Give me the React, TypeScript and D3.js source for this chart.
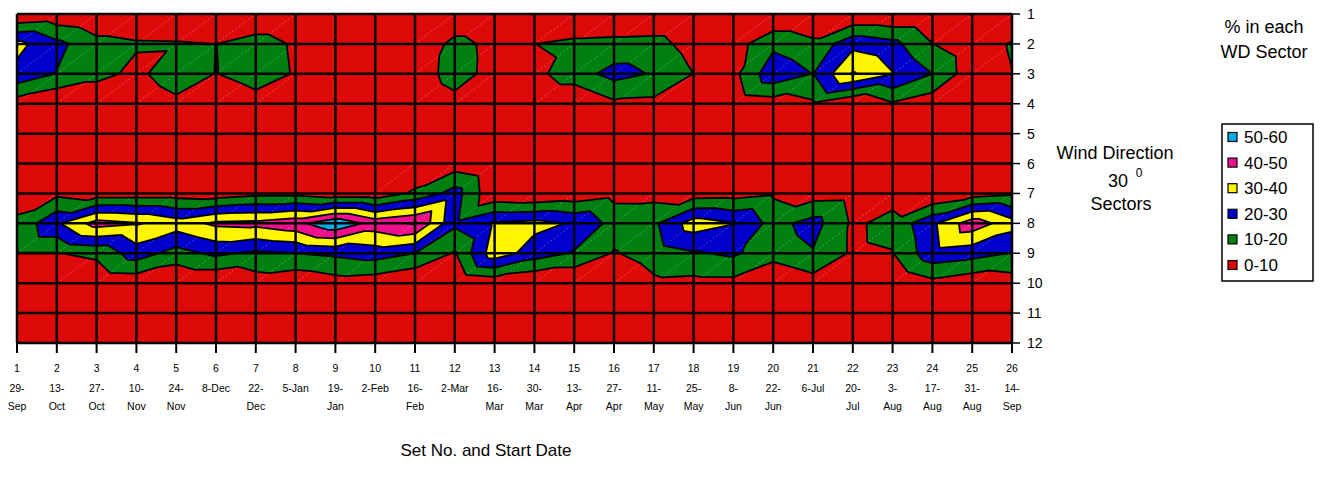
import React from 'react';
import * as d3 from 'd3';

// ---- Data (rows = wind-direction sectors 1..12, columns = sets 1..26) ----
const setNumbers = ['1','2','3','4','5','6','7','8','9','10','11','12','13','14','15','16','17','18','19','20','21','22','23','24','25','26'];
const startDayLabels = ['29-','13-','27-','10-','24-','8-Dec','22-','5-Jan','19-','2-Feb','16-','2-Mar','16-','30-','13-','27-','11-','25-','8-','22-','6-Jul','20-','3-','17-','31-','14-'];
const startMonthLabels = ['Sep','Oct','Oct','Nov','Nov','','Dec','','Jan','','Feb','','Mar','Mar','Apr','Apr','May','May','Jun','Jun','','Jul','Aug','Aug','Aug','Sep'];
const sectorTicks = [1,2,3,4,5,6,7,8,9,10,11,12];

const sector1 = [0, 2.6, 0, 0, 0, 0, 0, 0, 0, 0, 0, 0, 0, 0, 0, 0, 0, 0, 0, 0, 0, 0, 0, 0, 0, 0];
const sector2 = [33, 22.6, 13.6, 11.2, 10.9, 9.9, 14.7, 8.7, 3, 2, 0, 13.5, 7, 9.9, 12.3, 13, 13.7, 5.8, 5.5, 17.5, 12.3, 27, 23, 10.2, 3, 11];
const sector3 = [27, 19.6, 13.7, 7.1, 17, 9.7, 15, 9.2, 4, 3, 4.5, 14, 6.7, 7.2, 15.5, 23.5, 19.2, 9.9, 7, 27, 19.8, 41, 30.5, 20, 3.6, 9.8];
const sector4 = [5, 0, 0, 0, 7, 0, 5.7, 0, 0, 0, 2, 7, 2, 0, 0, 8, 7.3, 0, 3, 5, 8.6, 0, 9, 4, 0, 0];
const sector5 = [2, 1, 1, 0, 1, 0, 1, 0, 0, 0, 1, 2, 1, 0, 0, 2, 1, 0, 1, 1, 2, 0, 2, 1, 0, 0];
const sector6 = [1, 1, 0, 0, 0, 0, 0, 0, 0, 0, 0, 4.7, 0, 0, 0, 0, 0, 0, 0, 0, 0, 0, 0, 0, 0, 0];
const sector7 = [5.5, 7.7, 4.4, 5, 5.2, 4, 7, 7, 4, 3, 12, 24.3, 1.6, 0, 2.6, 6.8, 6.6, 5, 5.8, 8.7, 5.1, 6, 6.4, 0, 5, 8];
const sector8 = [11.8, 28.5, 44, 41, 35, 42, 43, 47, 58, 46, 51, 22, 31.6, 33, 29, 16.5, 18, 35, 30.5, 16.3, 24, 8.5, 12.8, 28, 46, 34];
const sector9 = [9.6, 9.6, 12.2, 25, 16, 22, 18, 20, 22, 24.5, 20, 9, 36, 25, 19, 9.2, 15, 19, 21.6, 14, 19.2, 8.4, 9.6, 26.5, 24, 19.5];
const sector10 = [0, 0, 2.2, 3, 0, 0, 5, 2, 5.5, 4, 0, 0, 3, 0, 0, 0, 7.9, 7, 7, 0, 5.5, 0, 0, 7, 3, 5];
const sector11 = [1, 1, 0, 1, 0, 0, 1, 0, 0, 1, 0, 0, 1, 0, 0, 1, 0, 1, 0, 0, 1, 0, 0, 1, 0, 0];
const sector12 = [0, 1, 0, 0, 1, 0, 0, 1, 0, 0, 1, 0, 0, 1, 0, 0, 0, 0, 1, 0, 0, 1, 0, 0, 1, 0];
const sectors = [sector1, sector2, sector3, sector4, sector5, sector6, sector7, sector8, sector9, sector10, sector11, sector12];

const bandThresholds = [10, 20, 30, 40, 50];
const bandColors = ['#008010', '#0000CC', '#FFF500', '#F0108C', '#00ADE8'];
const baseColor = '#DE0A0A';
const legendLabels = ['50-60', '40-50', '30-40', '20-30', '10-20', '0-10'];
const legendColors = ['#00ADE8', '#F0108C', '#FFF500', '#0000CC', '#008010', '#DE0A0A'];

const FONT = '"Liberation Sans", Arial, Helvetica, sans-serif';

type P = [number, number, number];

function clipTri(tri: P[], t: number): P[] {
  const out: P[] = [];
  for (let k = 0; k < tri.length; k++) {
    const a = tri[k];
    const b = tri[(k + 1) % tri.length];
    const ia = a[2] >= t;
    const ib = b[2] >= t;
    if (ia) out.push(a);
    if (ia !== ib) {
      const f = (t - a[2]) / (b[2] - a[2]);
      out.push([a[0] + f * (b[0] - a[0]), a[1] + f * (b[1] - a[1]), t]);
    }
  }
  return out;
}

function isoSeg(tri: P[], t: number): [number, number][] {
  const pts: [number, number][] = [];
  for (let k = 0; k < 3; k++) {
    const a = tri[k];
    const b = tri[(k + 1) % 3];
    const ia = a[2] >= t;
    const ib = b[2] >= t;
    if (ia !== ib) {
      const f = (t - a[2]) / (b[2] - a[2]);
      pts.push([a[0] + f * (b[0] - a[0]), a[1] + f * (b[1] - a[1])]);
    }
  }
  return pts.length === 2 ? pts : [];
}

export default function App() {
  const x = d3.scaleLinear().domain([1, 26]).range([17, 1012]);
  const y = d3.scaleLinear().domain([1, 12]).range([14, 343]);
  const nCols = setNumbers.length;
  const nRows = sectors.length;

  const node = (c: number, r: number): P => [x(c + 1), y(r + 1), sectors[r][c]];

  const triangles: P[][] = [];
  const diagCells: { a: [number, number]; b: [number, number] }[] = [];
  for (let r = 0; r < nRows - 1; r++) {
    for (let c = 0; c < nCols - 1; c++) {
      const TL = node(c, r), TR = node(c + 1, r), BL = node(c, r + 1), BR = node(c + 1, r + 1);
      triangles.push([TL, TR, BL]);
      triangles.push([TR, BR, BL]);
      const vals = [TL[2], TR[2], BL[2], BR[2]];
      const mn = Math.min(...vals), mx = Math.max(...vals);
      if (bandThresholds.some((t) => mn < t && mx >= t)) {
        diagCells.push({ a: [BL[0], BL[1]], b: [TR[0], TR[1]] });
      }
    }
  }

  const fmt = (v: number) => v.toFixed(2);
  const fillPaths = bandThresholds.map((t) => {
    let d = '';
    for (const tri of triangles) {
      const poly = clipTri(tri, t);
      if (poly.length >= 3) {
        d += 'M' + poly.map((p) => fmt(p[0]) + ',' + fmt(p[1])).join('L') + 'Z';
      }
    }
    return d;
  });
  let isoPath = '';
  for (const t of bandThresholds) {
    for (const tri of triangles) {
      const s = isoSeg(tri, t);
      if (s.length === 2) {
        isoPath += 'M' + fmt(s[0][0]) + ',' + fmt(s[0][1]) + 'L' + fmt(s[1][0]) + ',' + fmt(s[1][1]);
      }
    }
  }

  const x0 = x(1), x1 = x(26), y0 = y(1), y1 = y(12);

  return (
    <svg width={1333} height={486} style={{ position: 'absolute', left: 0, top: 0, background: '#fff' }} fontFamily={FONT}>
      <defs>
        <clipPath id="plotClip">
          <rect x={x0} y={y0} width={x1 - x0} height={y1 - y0} />
        </clipPath>
      </defs>
      <g clipPath="url(#plotClip)">
        <rect x={x0} y={y0} width={x1 - x0} height={y1 - y0} fill={baseColor} />
        {fillPaths.map((d, i) => (
          <path key={i} d={d} fill={bandColors[i]} stroke="none" />
        ))}
        {diagCells.map((dc, i) => (
          <line key={i} x1={dc.a[0]} y1={dc.a[1]} x2={dc.b[0]} y2={dc.b[1]} stroke="#ffffff" strokeOpacity={0.4} strokeWidth={0.7} strokeDasharray="2 2" />
        ))}
        <path d={isoPath} fill="none" stroke="#000" strokeWidth={1.8} strokeLinecap="round" />
      </g>
      {/* grid */}
      <g stroke="#000" strokeWidth={2.5}>
        {setNumbers.map((s, i) => (
          <line key={'v' + i} x1={x(i + 1)} x2={x(i + 1)} y1={y0} y2={y1} />
        ))}
        {sectorTicks.map((s) => (
          <line key={'h' + s} x1={x0} x2={x1} y1={y(s)} y2={y(s)} />
        ))}
      </g>
      {/* right axis */}
      <g>
        {sectorTicks.map((s) => (
          <g key={s}>
            <line x1={x1} x2={x1 + 8} y1={y(s)} y2={y(s)} stroke="#000" strokeWidth={1.5} />
            <text x={x1 + 15} y={y(s) + 5} fontSize={14} fill="#000">{s}</text>
          </g>
        ))}
      </g>
      {/* bottom axis */}
      <g>
        {setNumbers.map((s, i) => (
          <g key={s}>
            <line x1={x(i + 1)} x2={x(i + 1)} y1={y1} y2={y1 + 10} stroke="#000" strokeWidth={2} />
            <text x={x(i + 1)} y={372} fontSize={10.5} textAnchor="middle" fill="#000">{s}</text>
            <text x={x(i + 1)} y={392} fontSize={10.5} textAnchor="middle" fill="#000">{startDayLabels[i]}</text>
            <text x={x(i + 1)} y={410} fontSize={10.5} textAnchor="middle" fill="#000">{startMonthLabels[i]}</text>
          </g>
        ))}
      </g>
      <text x={486} y={456} fontSize={17} textAnchor="middle" fill="#000">Set No. and Start Date</text>
      {/* side labels */}
      <text x={1264} y={33} fontSize={18} textAnchor="middle" fill="#000">% in each</text>
      <text x={1264} y={58} fontSize={18} textAnchor="middle" fill="#000">WD Sector</text>
      <text x={1115} y={159} fontSize={18} textAnchor="middle" fill="#000">Wind Direction</text>
      <text x={1118} y={187} fontSize={18} textAnchor="middle" fill="#000">30</text>
      <text x={1139} y={177} fontSize={12} textAnchor="middle" fill="#000">0</text>
      <text x={1121} y={210} fontSize={18} textAnchor="middle" fill="#000">Sectors</text>
      {/* legend */}
      <rect x={1222} y={124} width={91} height={157} fill="#fff" stroke="#000" strokeWidth={1.5} />
      {legendLabels.map((l, i) => {
        const cy = 137 + i * 25.6;
        return (
          <g key={l}>
            <rect x={1228} y={cy - 4.5} width={9} height={9} fill={legendColors[i]} stroke="#000" strokeWidth={1.2} />
            <text x={1244} y={cy + 6} fontSize={17} fill="#000">{l}</text>
          </g>
        );
      })}
    </svg>
  );
}
